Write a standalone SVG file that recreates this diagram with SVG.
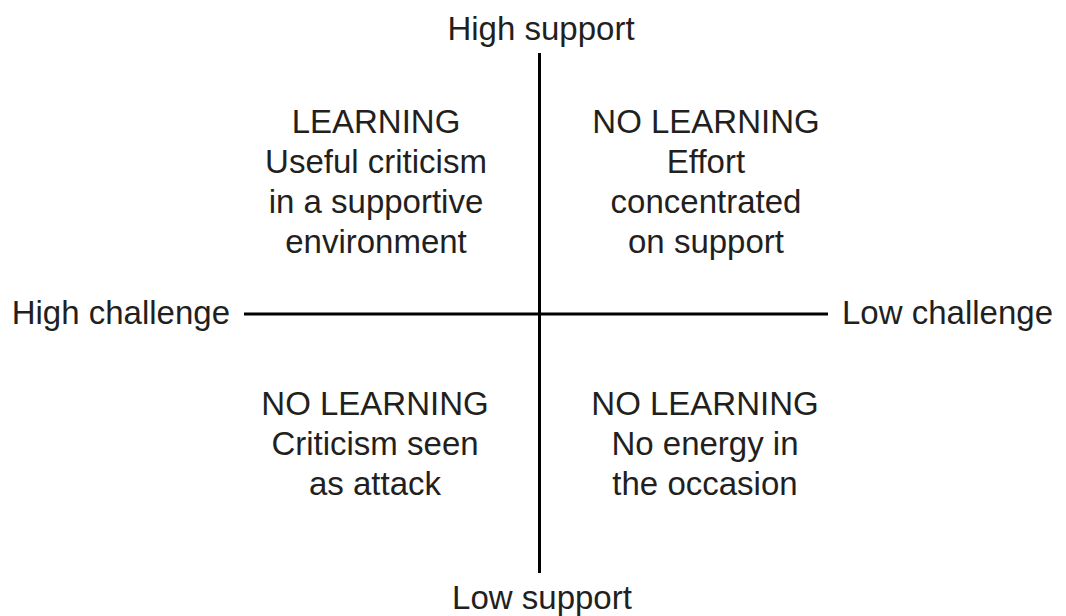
<svg xmlns="http://www.w3.org/2000/svg" width="1066" height="616" viewBox="0 0 1066 616">
<style>
text{font-family:"Liberation Sans",Arial,sans-serif;font-size:33px;fill:#231f20;text-anchor:middle}
.ax{stroke:#000;stroke-width:3;fill:none}
</style>
<rect width="1066" height="616" fill="#fff"/>
<g id="connectors">
<line class="ax" x1="539.5" y1="53" x2="539.5" y2="573"/>
<line class="ax" x1="244" y1="314" x2="828" y2="314"/>
</g>
<g id="high-support"><text x="541" y="40">High support</text></g>
<g id="low-support"><text x="542" y="609">Low support</text></g>
<g id="high-challenge"><text x="230" y="324" style="text-anchor:end">High challenge</text></g>
<g id="low-challenge"><text x="842" y="324" style="text-anchor:start">Low challenge</text></g>
<g id="q-top-left">
<text x="376" y="133">LEARNING</text>
<text x="376" y="173">Useful criticism</text>
<text x="376" y="213">in a supportive</text>
<text x="376" y="253">environment</text>
</g>
<g id="q-top-right">
<text x="706" y="133">NO LEARNING</text>
<text x="706" y="173">Effort</text>
<text x="706" y="213">concentrated</text>
<text x="706" y="253">on support</text>
</g>
<g id="q-bottom-left">
<text x="375" y="415">NO LEARNING</text>
<text x="375" y="455">Criticism seen</text>
<text x="375" y="495">as attack</text>
</g>
<g id="q-bottom-right">
<text x="705" y="415">NO LEARNING</text>
<text x="705" y="455">No energy in</text>
<text x="705" y="495">the occasion</text>
</g>
</svg>
